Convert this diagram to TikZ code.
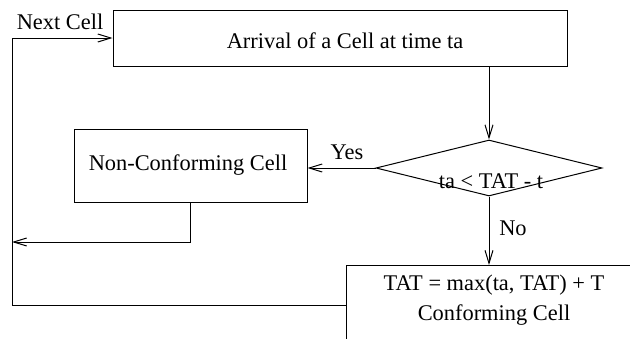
\documentclass[tikz,border=0pt]{standalone}
\usepackage{fontspec}
\setmainfont{Liberation Serif}
\usetikzlibrary{arrows.meta,shapes.geometric}
\begin{document}
\begin{tikzpicture}[x=1pt,y=-1pt,
  every node/.style={font=\fontsize{22.4}{27}\selectfont, inner sep=0pt},
  box/.style={draw, line width=1pt},
  conn/.style={line width=1pt, -{Straight Barb[length=13pt,width=8pt,line width=1pt]}},
  plain/.style={line width=1pt}]
\useasboundingbox (0,0) rectangle (630,338);
\clip (0,0) rectangle (630,338);
% boxes
\node[box, minimum width=454pt, minimum height=56pt] (arr) at (340,38) {};
\node (arrtxt) at (345,41) {Arrival of a Cell at time ta};
\node[box, shape=diamond, minimum width=226pt, minimum height=56pt] (dec) at (489,168) {};
\node (cond) at (491,181) {ta < TAT - t};
\node[box, minimum width=233pt, minimum height=73pt] (nc) at (190.5,165.5) {};
\node (nctxt) at (188,165) {Non-Conforming Cell};
\node[box, anchor=north west, minimum width=320pt, minimum height=100pt] (conf) at (346,265) {};
\node[anchor=base] (tat) at (494,290) {TAT = max(ta, TAT) + T};
\node[anchor=base] (cc) at (494,320) {Conforming Cell};
% coordinates
\coordinate (lp) at (12,242);
\coordinate (cl) at (346,305);
\coordinate (bl) at (12,305);
% connectors
\draw[conn] (dec.north |- arr.south) -- (dec.north);
\draw[conn] (dec.west) -- (dec.west -| nc.east);
\node (yes) at (347,152) {Yes};
\draw[conn] (dec.south) -- (dec.south |- conf.north);
\node (no) at (513,228) {No};
\draw[conn] (nc.south) |- (lp);
\draw[conn] (cl) -- (bl) -- (bl |- arr.west) -- (arr.west);
\node (next) at (60,22) {Next Cell};
\end{tikzpicture}
\end{document}
